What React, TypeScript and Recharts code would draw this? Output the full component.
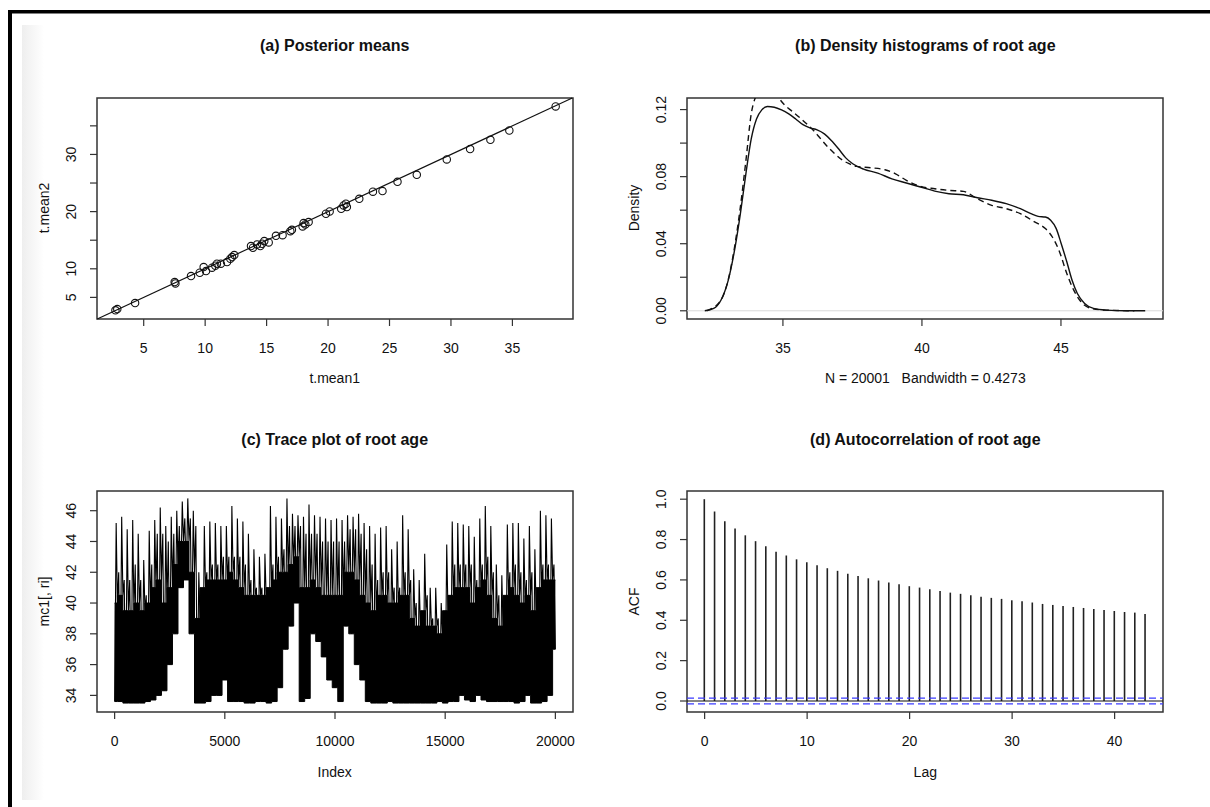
import React from "react";
import {
  ScatterChart,
  Scatter,
  LineChart,
  Line,
  ComposedChart,
  Bar,
  Area,
  XAxis,
  YAxis,
  ReferenceLine,
  ReferenceArea,
} from "recharts";

const FONT = '"Liberation Sans", Arial, Helvetica, sans-serif';
const INK = "#111";
const BOX = "#333";

// ---------- (a) posterior means ----------
const tMean1 = [2.7, 2.85, 4.3, 7.52, 7.58, 8.85, 9.56, 9.88, 10.07, 10.56, 10.83, 10.96, 11.28, 11.78, 12.05, 12.19, 12.37, 13.73, 13.89, 14.22, 14.49, 14.63, 14.81, 15.17, 15.76, 16.3, 16.93, 17.06, 17.93, 18.01, 18.15, 18.42, 19.83, 20.13, 21.07, 21.26, 21.45, 21.53, 22.54, 23.65, 24.43, 25.65, 27.22, 29.66, 31.56, 33.21, 34.75, 38.52];
const tMean2 = [2.73, 2.95, 4.01, 7.68, 7.45, 8.73, 9.31, 10.3, 9.6, 10.19, 10.54, 10.89, 10.89, 11.18, 11.76, 12.05, 12.4, 13.97, 13.68, 14.26, 13.97, 14.38, 14.84, 14.61, 15.77, 15.88, 16.58, 16.81, 17.41, 17.99, 17.76, 18.17, 19.63, 20.04, 20.5, 21.09, 21.38, 20.79, 22.23, 23.48, 23.6, 25.21, 26.44, 29.12, 30.93, 32.56, 34.19, 38.39];
const aXTicks = [5, 10, 15, 20, 25, 30, 35];
const aYTicks = [5, 10, 15, 20, 25, 30, 35];
const aYLabelled = [5, 10, 20, 30];
const aXDomain = [1.2, 39.93];
const aYDomain = [1.22, 39.87];
const identityLine = [1.22, 39.87];

// ---------- (b) density ----------
const densSolidX = [32.19, 32.51, 32.77, 33.03, 33.28, 33.47, 33.67, 33.86, 34.05, 34.24, 34.44, 34.69, 34.95, 35.21, 35.46, 35.72, 35.97, 36.23, 36.49, 36.74, 37.0, 37.26, 37.51, 37.9, 38.41, 38.92, 39.44, 39.95, 40.46, 40.97, 41.49, 42.0, 42.51, 43.03, 43.54, 43.92, 44.18, 44.44, 44.63, 44.83, 45.01, 45.21, 45.4, 45.59, 45.85, 46.17, 46.62, 47.38, 48.03];
const densSolidY = [0, 0.0014, 0.0063, 0.018, 0.038, 0.058, 0.082, 0.1025, 0.1144, 0.1198, 0.1218, 0.1214, 0.1198, 0.1174, 0.1144, 0.111, 0.1091, 0.1079, 0.1055, 0.1016, 0.0966, 0.0912, 0.0877, 0.0845, 0.0821, 0.0787, 0.0762, 0.0738, 0.0714, 0.0698, 0.0692, 0.0674, 0.0659, 0.0639, 0.0609, 0.0579, 0.0563, 0.0559, 0.054, 0.049, 0.04, 0.0292, 0.0182, 0.0103, 0.0044, 0.0014, 0.0004, 0, 0];
const densDashX = [32.26, 32.77, 33.03, 33.28, 33.47, 33.67, 33.86, 33.99, 34.2, 34.45, 34.7, 34.88, 35.08, 35.33, 35.59, 35.85, 36.1, 36.36, 36.62, 36.87, 37.13, 37.38, 37.64, 38.15, 38.67, 39.05, 39.44, 39.95, 40.46, 40.97, 41.49, 42.0, 42.51, 43.03, 43.54, 44.05, 44.44, 44.69, 44.95, 45.21, 45.46, 45.72, 46.1, 46.62, 47.64];
const densDashY = [0, 0.0063, 0.0184, 0.04, 0.062, 0.0897, 0.1174, 0.1263, 0.131, 0.1335, 0.131, 0.1263, 0.1224, 0.119, 0.1154, 0.1115, 0.1075, 0.1025, 0.0976, 0.0936, 0.09, 0.0877, 0.0861, 0.0853, 0.0841, 0.0817, 0.0778, 0.0742, 0.0728, 0.0718, 0.0712, 0.0668, 0.0629, 0.0609, 0.0579, 0.053, 0.049, 0.044, 0.0351, 0.0222, 0.0123, 0.0054, 0.0014, 0.0004, 0];
const bXTicks = [35, 40, 45];
const bYTicks = [0, 0.02, 0.04, 0.06, 0.08, 0.1, 0.12];
const bYLabelled = [0, 0.04, 0.08, 0.12];
const bXDomain = [31.55, 48.67];
const bYDomain = [-0.0049, 0.1269];

// ---------- (c) trace: per bin of 250 draws:
// lowest value, top of the solid black band, a typical upper stroke, and the highest spike
const traceBinStart = [0, 250, 500, 750, 1000, 1250, 1500, 1750, 2000, 2250, 2500, 2750, 3000, 3250, 3500, 3750, 4000, 4250, 4500, 4750, 5000, 5250, 5500, 5750, 6000, 6250, 6500, 6750, 7000, 7250, 7500, 7750, 8000, 8250, 8500, 8750, 9000, 9250, 9500, 9750, 10000, 10250, 10500, 10750, 11000, 11250, 11500, 11750, 12000, 12250, 12500, 12750, 13000, 13250, 13500, 13750, 14000, 14250, 14500, 14750, 15000, 15250, 15500, 15750, 16000, 16250, 16500, 16750, 17000, 17250, 17500, 17750, 18000, 18250, 18500, 18750, 19000, 19250, 19500, 19750, 20000];
const traceLow = [33.6, 33.6, 33.5, 33.5, 33.5, 33.5, 33.6, 33.7, 34.0, 34.3, 36.0, 38.0, 41.0, 41.5, 38.0, 33.5, 33.5, 33.6, 34.0, 34.0, 35.0, 33.6, 33.6, 33.6, 33.5, 33.5, 33.6, 33.6, 33.5, 33.6, 34.5, 37.0, 38.5, 40.0, 33.6, 33.8, 38.0, 37.5, 36.5, 35.0, 34.5, 33.6, 38.5, 38.0, 36.0, 35.0, 33.6, 33.5, 33.5, 33.5, 33.6, 33.5, 33.5, 33.5, 33.5, 33.5, 33.5, 33.5, 33.5, 33.6, 33.5, 33.6, 33.6, 34.0, 33.7, 33.6, 34.0, 33.7, 33.6, 33.6, 33.6, 33.6, 33.6, 33.5, 33.6, 34.0, 33.5, 33.5, 33.6, 34.0, 37.0];
const traceCore = [40.0, 40.5, 39.5, 39.5, 40.0, 39.5, 40.0, 41.0, 41.5, 40.0, 41.0, 42.5, 44.0, 44.0, 42.0, 39.0, 41.0, 41.5, 41.5, 41.5, 41.5, 42.0, 41.5, 41.0, 40.5, 40.5, 40.5, 40.5, 41.0, 41.5, 42.0, 42.0, 42.5, 43.0, 41.0, 41.0, 41.5, 41.0, 40.5, 40.5, 40.5, 40.5, 42.0, 42.0, 41.5, 40.5, 40.0, 39.5, 40.5, 40.5, 40.0, 40.0, 40.5, 40.5, 39.0, 38.5, 39.5, 38.5, 38.5, 38.0, 39.5, 40.5, 41.0, 41.0, 41.0, 40.0, 41.0, 41.5, 40.5, 39.0, 38.5, 40.5, 41.0, 40.5, 40.0, 40.5, 39.5, 41.0, 41.5, 41.5, 41.5];
const traceMid = [42.0, 41.5, 41.5, 42.5, 41.5, 40.5, 42.5, 44.5, 44.5, 44.0, 44.5, 45.0, 45.5, 45.5, 45.0, 40.0, 42.0, 42.5, 42.5, 43.0, 43.0, 43.0, 43.0, 42.5, 41.5, 41.0, 41.0, 41.0, 42.5, 43.0, 43.5, 45.0, 45.0, 45.0, 44.5, 44.5, 44.5, 44.0, 44.0, 44.0, 44.0, 44.0, 44.8, 44.8, 44.5, 43.5, 42.5, 41.5, 42.0, 42.0, 41.0, 41.0, 42.0, 41.5, 40.0, 39.5, 40.5, 39.0, 39.0, 38.5, 40.5, 42.5, 42.5, 42.5, 42.5, 41.5, 42.5, 43.0, 42.0, 40.5, 40.0, 42.0, 42.5, 42.0, 41.5, 42.0, 40.5, 42.5, 42.5, 42.5, 42.5];
const traceHigh = [45.2, 45.6, 44.8, 45.4, 44.5, 42.8, 44.7, 45.4, 46.2, 45.0, 45.6, 46.0, 46.6, 46.8, 46.0, 42.0, 45.0, 45.3, 45.2, 45.0, 45.0, 46.3, 45.5, 45.3, 44.5, 43.5, 43.0, 43.2, 46.3, 45.6, 45.5, 46.8, 45.8, 45.7, 45.6, 46.4, 45.7, 45.6, 45.5, 45.4, 45.5, 45.4, 45.7, 45.6, 45.8, 45.2, 45.0, 44.5, 44.9, 45.0, 43.5, 44.0, 45.7, 44.8, 42.2, 41.5, 43.2, 41.0, 41.0, 40.0, 43.8, 45.3, 45.2, 45.1, 45.0, 44.3, 45.5, 46.3, 45.0, 42.5, 41.8, 45.1, 45.2, 45.2, 44.2, 45.0, 43.5, 46.0, 45.7, 45.5, 45.5];
// within-bin positions of the strokes (draw offsets, in draws)
const strokeAt = [0, 70, 125, 185];
const cXTicks = [0, 5000, 10000, 15000, 20000];
const cYTicks = [34, 36, 38, 40, 42, 44, 46];
const cXDomain = [-800, 20800];
const cYDomain = [32.92, 47.28];

// ---------- (d) ACF ----------
const acfLag = [0, 1, 2, 3, 4, 5, 6, 7, 8, 9, 10, 11, 12, 13, 14, 15, 16, 17, 18, 19, 20, 21, 22, 23, 24, 25, 26, 27, 28, 29, 30, 31, 32, 33, 34, 35, 36, 37, 38, 39, 40, 41, 42, 43];
const acfValue = [1.0, 0.939, 0.891, 0.855, 0.821, 0.792, 0.767, 0.74, 0.721, 0.702, 0.688, 0.673, 0.658, 0.645, 0.631, 0.62, 0.608, 0.597, 0.587, 0.579, 0.569, 0.562, 0.554, 0.545, 0.537, 0.531, 0.524, 0.517, 0.511, 0.506, 0.499, 0.494, 0.488, 0.481, 0.476, 0.471, 0.466, 0.461, 0.456, 0.451, 0.446, 0.441, 0.438, 0.431];
const acfCI = 0.01386;
const dXTicks = [0, 10, 20, 30, 40];
const dYTicks = [0, 0.2, 0.4, 0.6, 0.8, 1.0];
const dXDomain = [-1.72, 44.72];
const dYDomain = [-0.0545, 1.0406];

// ---------- layout ----------
const BOX_W = 476;
const BOX_H = 221;
const PAD_L = 70;
const PAD_T = 10;
const PAD_R = 10;
const PAD_B = 60;
const COL = [96.7, 687.3];
const ROW = [97.5, 491];
const CW = PAD_L + BOX_W + PAD_R;
const CH = PAD_T + BOX_H + PAD_B;

const tickText = { fontSize: 14, fontFamily: FONT, fill: INK } as const;

const makeXTick = (fmt: (v: number) => string) => (props: any) => {
  const { x, y, payload } = props;
  return (
    <text x={x} y={y + 25} textAnchor="middle" {...tickText}>
      {fmt(payload.value)}
    </text>
  );
};

const makeYTick = (fmt: (v: number) => string, show?: number[]) => (props: any) => {
  const { x, y, payload } = props;
  const v = payload.value;
  if (show && !show.some((s) => Math.abs(s - v) < 1e-9)) return <g />;
  const cx = x - 17;
  return (
    <text x={cx} y={y} transform={`rotate(-90 ${cx} ${y})`} textAnchor="middle" dominantBaseline="central" {...tickText}>
      {fmt(v)}
    </text>
  );
};

const tickLineStyle = { stroke: BOX, strokeWidth: 1.2 };

const Frame = ({ xd, yd }: { xd: number[]; yd: number[] }) => (
  <ReferenceArea x1={xd[0]} x2={xd[1]} y1={yd[0]} y2={yd[1]} fill="none" fillOpacity={0} stroke={BOX} strokeWidth={1.5} ifOverflow="visible" />
);

function pos(col: number, row: number): React.CSSProperties {
  return { position: "absolute", left: COL[col] - PAD_L, top: ROW[row] - PAD_T, width: CW, height: CH };
}

const margin = { top: PAD_T, right: PAD_R, left: 0, bottom: 0 };

export default function App() {
  const scatterData = tMean1.map((x, i) => ({ x, y: tMean2[i] }));
  const solid = densSolidX.map((x, i) => ({ x, y: densSolidY[i] }));
  const dashed = densDashX.map((x, i) => ({ x, y: densDashY[i] }));
  const band = traceBinStart.map((s, k) => ({ i: s, band: [traceLow[k], traceCore[k]] }));
  const strokes: { i: number; v: number }[] = [];
  traceBinStart.forEach((s, k) => {
    strokes.push({ i: s + strokeAt[0], v: traceLow[k] });
    if (k < traceBinStart.length - 1) {
      strokes.push({ i: s + strokeAt[1], v: traceHigh[k] });
      strokes.push({ i: s + strokeAt[2], v: traceCore[k] });
      strokes.push({ i: s + strokeAt[3], v: traceMid[k] });
    }
  });
  const acf = acfLag.map((lag, i) => ({ lag, acf: acfValue[i] }));

  const cx0 = COL[0] + BOX_W / 2;
  const cx1 = COL[1] + BOX_W / 2;
  const cy0 = ROW[0] + BOX_H / 2;
  const cy1 = ROW[1] + BOX_H / 2;

  const titleStyle = { fontSize: 16, fontWeight: 700, fontFamily: FONT, fill: INK } as const;
  const labStyle = { fontSize: 14, fontFamily: FONT, fill: INK } as const;

  return (
    <div style={{ position: "absolute", left: 0, top: 0, width: 1210, height: 807, background: "#fff", overflow: "hidden" }}>
      <svg width={1210} height={807} style={{ position: "absolute", left: 0, top: 0 }}>
        <defs>
          <linearGradient id="strip" x1="0" x2="1" y1="0" y2="0">
            <stop offset="0" stopColor="#eeeeee" />
            <stop offset="1" stopColor="#ffffff" />
          </linearGradient>
        </defs>
        <rect x={22} y={25} width={22} height={775} fill="url(#strip)" />
        <rect x={8} y={10} width={4} height={797} fill="#000" />
        <rect x={8} y={10} width={1202} height={3.5} fill="#000" />
      </svg>

      {/* (a) */}
      <div style={pos(0, 0)}>
        <ScatterChart width={CW} height={CH} margin={margin}>
          <XAxis type="number" dataKey="x" domain={aXDomain} allowDataOverflow ticks={aXTicks} height={PAD_B}
            axisLine={false} tickLine={tickLineStyle} tickSize={7} tick={makeXTick((v) => String(v))} />
          <YAxis type="number" dataKey="y" domain={aYDomain} allowDataOverflow ticks={aYTicks} width={PAD_L}
            axisLine={false} tickLine={tickLineStyle} tickSize={7} tick={makeYTick((v) => String(v), aYLabelled)} />
          <Frame xd={aXDomain} yd={aYDomain} />
          <ReferenceLine
            segment={[
              { x: identityLine[0], y: identityLine[0] },
              { x: identityLine[1], y: identityLine[1] },
            ]}
            stroke={INK}
            strokeWidth={1.2}
            ifOverflow="visible"
          />
          <Scatter data={scatterData} isAnimationActive={false}
            shape={(p: any) => <circle cx={p.cx} cy={p.cy} r={3.7} fill="none" stroke={INK} strokeWidth={1.1} />} />
        </ScatterChart>
      </div>

      {/* (b) */}
      <div style={pos(1, 0)}>
        <LineChart width={CW} height={CH} margin={margin}>
          <XAxis type="number" dataKey="x" domain={bXDomain} allowDataOverflow ticks={bXTicks} height={PAD_B}
            axisLine={false} tickLine={tickLineStyle} tickSize={7} tick={makeXTick((v) => String(v))} />
          <YAxis type="number" dataKey="y" domain={bYDomain} allowDataOverflow ticks={bYTicks} width={PAD_L}
            axisLine={false} tickLine={tickLineStyle} tickSize={7} tick={makeYTick((v) => v.toFixed(2), bYLabelled)} />
          <ReferenceLine y={0} stroke="#d8d8d8" strokeWidth={1} />
          <Line data={solid} dataKey="y" type="monotone" stroke={INK} strokeWidth={1.4} dot={false} isAnimationActive={false} />
          <Line data={dashed} dataKey="y" type="monotone" stroke={INK} strokeWidth={1.4} strokeDasharray="6 4" dot={false} isAnimationActive={false} />
          <Frame xd={bXDomain} yd={bYDomain} />
        </LineChart>
      </div>

      {/* (c) */}
      <div style={pos(0, 1)}>
        <ComposedChart width={CW} height={CH} margin={margin}>
          <XAxis type="number" dataKey="i" domain={cXDomain} allowDataOverflow ticks={cXTicks} height={PAD_B}
            axisLine={false} tickLine={tickLineStyle} tickSize={7} tick={makeXTick((v) => String(v))} />
          <YAxis type="number" domain={cYDomain} allowDataOverflow ticks={cYTicks} width={PAD_L}
            axisLine={false} tickLine={tickLineStyle} tickSize={7} tick={makeYTick((v) => String(v))} />
          <Area data={band} dataKey="band" type="step" fill="#000" fillOpacity={1} stroke="#000" strokeWidth={1} isAnimationActive={false} />
          <Line data={strokes} dataKey="v" type="linear" stroke="#000" strokeWidth={1.1} dot={false} isAnimationActive={false} />
          <Frame xd={cXDomain} yd={cYDomain} />
        </ComposedChart>
      </div>

      {/* (d) */}
      <div style={pos(1, 1)}>
        <ComposedChart width={CW} height={CH} margin={margin} data={acf}>
          <XAxis type="number" dataKey="lag" domain={dXDomain} allowDataOverflow ticks={dXTicks} height={PAD_B}
            axisLine={false} tickLine={tickLineStyle} tickSize={7} tick={makeXTick((v) => String(v))} />
          <YAxis type="number" domain={dYDomain} allowDataOverflow ticks={dYTicks} width={PAD_L}
            axisLine={false} tickLine={tickLineStyle} tickSize={7} tick={makeYTick((v) => v.toFixed(1))} />
          <Bar dataKey="acf" barSize={1.6} fill="#222" isAnimationActive={false} />
          <ReferenceLine y={0} stroke={INK} strokeWidth={1.2} />
          <ReferenceLine y={acfCI} stroke="#3b3bff" strokeWidth={1.2} strokeDasharray="7 4" />
          <ReferenceLine y={-acfCI} stroke="#3b3bff" strokeWidth={1.2} strokeDasharray="7 4" />
          <Frame xd={dXDomain} yd={dYDomain} />
        </ComposedChart>
      </div>

      {/* titles and axis labels */}
      <svg width={1210} height={807} style={{ position: "absolute", left: 0, top: 0, pointerEvents: "none" }}>
        <text x={cx0} y={51} textAnchor="middle" {...titleStyle}>(a) Posterior means</text>
        <text x={cx1} y={51} textAnchor="middle" {...titleStyle}>(b) Density histograms of root age</text>
        <text x={cx0} y={445} textAnchor="middle" {...titleStyle}>(c) Trace plot of root age</text>
        <text x={cx1} y={445} textAnchor="middle" {...titleStyle}>(d) Autocorrelation of root age</text>

        <text x={cx0} y={383} textAnchor="middle" {...labStyle}>t.mean1</text>
        <text x={cx1} y={383} textAnchor="middle" style={{ whiteSpace: "pre" }} {...labStyle}>N = 20001   Bandwidth = 0.4273</text>
        <text x={cx0} y={777} textAnchor="middle" {...labStyle}>Index</text>
        <text x={cx1} y={777} textAnchor="middle" {...labStyle}>Lag</text>

        <text x={44} y={cy0} transform={`rotate(-90 44 ${cy0})`} textAnchor="middle" dominantBaseline="central" {...labStyle}>t.mean2</text>
        <text x={COL[1] - 53} y={cy0} transform={`rotate(-90 ${COL[1] - 53} ${cy0})`} textAnchor="middle" dominantBaseline="central" {...labStyle}>Density</text>
        <text x={44} y={cy1} transform={`rotate(-90 44 ${cy1})`} textAnchor="middle" dominantBaseline="central" {...labStyle}>mc1[, ri]</text>
        <text x={COL[1] - 53} y={cy1} transform={`rotate(-90 ${COL[1] - 53} ${cy1})`} textAnchor="middle" dominantBaseline="central" {...labStyle}>ACF</text>
      </svg>
    </div>
  );
}
